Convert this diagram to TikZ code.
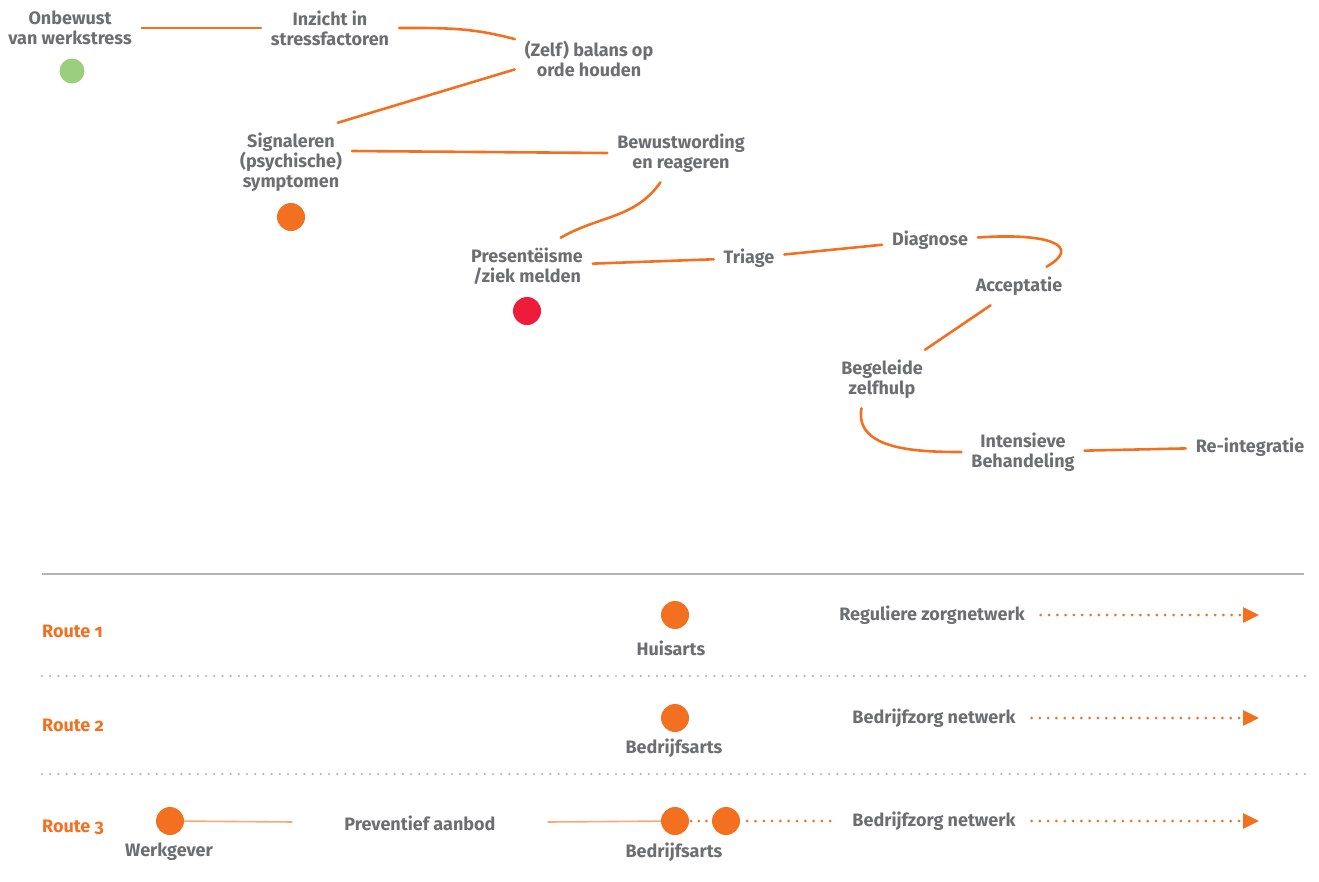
\documentclass[tikz,border=0pt]{standalone}
\usepackage{fontspec}
\setmainfont{Fira Sans}
\usepackage{tikz}
\usetikzlibrary{positioning,arrows.meta}

\definecolor{oranje}{HTML}{F37021}
\definecolor{lichtoranje}{HTML}{F8A77A}
\definecolor{grijs}{HTML}{6D6E71}
\definecolor{lijngrijs}{HTML}{B4B4B4}
\definecolor{groen}{HTML}{9BCF7E}
\definecolor{rood}{HTML}{EC1C3A}

\begin{document}
\begin{tikzpicture}[x=1pt,y=1pt]
	\tikzset{stap/.style={font=\fontsize{18}{20}\selectfont\bfseries,text=grijs,align=center,inner sep=0pt,outer sep=10pt}}
	\tikzset{stip/.style={circle,fill=oranje,minimum size=28pt,inner sep=0pt}}
	\tikzset{lijn/.style={draw=oranje,line width=2.6pt,line cap=round}}
	\useasboundingbox (0,0) rectangle (1319,-881);

	\node[stap] (onbewust) at (70,-28) {Onbewust\\van werkstress};
	\node[stap] (inzicht) at (330,-28) {Inzicht in\\stressfactoren};
	\node[stap] (balans) at (589,-59) {(Zelf) balans op\\orde houden};
	\node[stap] (signaleren) at (291,-162) {Signaleren\\(psychische)\\symptomen};
	\node[stap] (bewust) at (681,-153) {Bewustwording\\en reageren};
	\node[stap] (present) at (527,-266) {Presentëisme\\/ziek melden};
	\node[stap] (triage) at (749,-258) {Triage};
	\node[stap] (diagnose) at (930,-240) {Diagnose};
	\node[stap] (accept) at (1019,-286) {Acceptatie};
	\node[stap] (zelfhulp) at (882,-379) {Begeleide\\zelfhulp};
	\node[stap] (intensief) at (1023,-452) {Intensieve\\Behandeling};
	\node[stap] (reint) at (1250,-447) {Re-integratie};
	\node[stip,fill=groen,minimum size=25pt] (dot1) at (72,-71) {};
	\node[stip] (dot2) at (291,-217) {};
	\node[stip,fill=rood] (dot3) at (527,-311) {};
	\path[lijn]
		(onbewust) edge (inzicht)
		(inzicht) edge[out=0,in=165] (balans)
		(balans.188) edge (signaleren.40)
		([yshift=11pt]signaleren.east) edge (bewust.west)
		(bewust.-125) edge[out=-125,in=30] (present.40)
		(present) edge (triage)
		(triage) edge (diagnose)
		(diagnose.3) edge[out=4,in=30,out distance=71pt,in distance=42pt] (accept.35)
		(accept) edge (zelfhulp)
		(zelfhulp.-125) edge[out=-100,in=180] (intensief)
		(intensief) edge (reint);

	\tikzstyle{route}=[font=\fontsize{18}{20}\selectfont\bfseries\addfontfeatures{Numbers=OldStyle},text=oranje,anchor=west,inner sep=0pt]
	\tikzstyle{stippel}=[draw=oranje,line width=3pt,line cap=round,dash pattern=on 0pt off 8.3pt]
	\tikzstyle{pijl}=[stippel,shorten <=6pt,-{Triangle[length=16pt,width=15pt,fill=oranje]}]
	\tikzstyle{aanbod}=[draw=lichtoranje,line width=1.6pt]

	%% Draw separators
	\draw[lijngrijs,line width=1.4pt] (42,-574) -- (1304,-574);
	\foreach \y in {676,774}
		\draw[lijngrijs,line width=2.4pt,line cap=round,dash pattern=on 0pt off 8.2pt] (42,-\y) -- (1305,-\y);

	%% Draw routes
	\node[route] (route1) at (42,-631) {Route 1};
	\node[route] (route2) at (42,-725) {Route 2};
	\node[route] (route3) at (42,-827) {Route 3};

	\node[stip] (huisarts) at (675,-615) {};
	\node[stap] (huisartstxt) at (671,-648) {Huisarts};
	\node[stap] (regulier) at (932,-615) {Reguliere zorgnetwerk};
	\coordinate (eind1) at (1259,-615);

	\node[stip] (bedrijfsarts) at (675,-718) {};
	\node[stap] (bedrijfsartstxt) at (674,-748) {Bedrijfsarts};
	\node[stap] (bedrijfzorg) at (934,-718) {Bedrijfzorg netwerk};
	\coordinate (eind2) at (1259,-718);

	\node[stip] (werkgever) at (170,-821) {};
	\node[stap] (werkgevertxt) at (169,-852) {Werkgever};
	\node[stap] (preventief) at (420,-823) {Preventief aanbod};
	\node[stip] (arts3) at (675,-821) {};
	\node[stip] (arts3b) at (726,-821) {};
	\node[stap] (arts3txt) at (674,-852) {Bedrijfsarts};
	\node[stap] (bedrijfzorg3) at (934,-821) {Bedrijfzorg netwerk};
	\coordinate (eind3) at (1259,-821);

	\path
		(regulier) edge[pijl] (eind1)
		(bedrijfzorg) edge[pijl] (eind2)
		(bedrijfzorg3) edge[pijl] (eind3)
		(werkgever) edge[aanbod,shorten >=42pt] (preventief)
		(preventief) edge[aanbod,shorten <=42pt] (arts3)
		(arts3) edge[stippel,dash pattern=on 0pt off 7.6pt,shorten <=2pt] (arts3b)
		(arts3b) edge[stippel,shorten <=7pt,shorten >=12pt] (bedrijfzorg3);
\end{tikzpicture}
\end{document}
